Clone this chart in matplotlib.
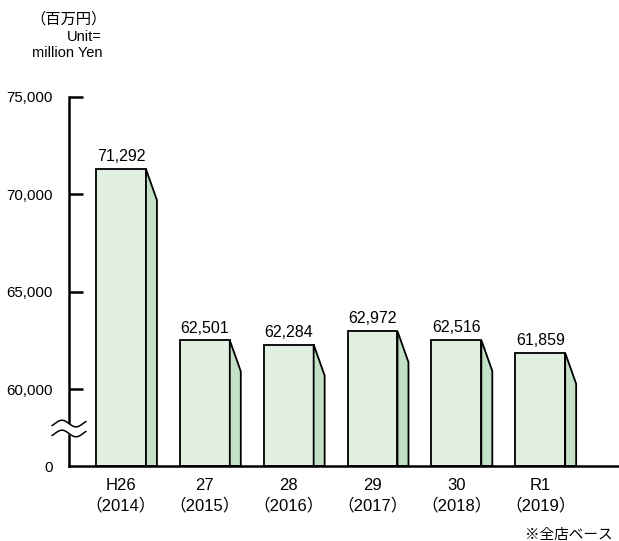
import matplotlib.pyplot as plt
import numpy as np

plt.rcParams['font.family'] = ['Liberation Sans', 'Noto Sans CJK JP']

years = ['H26\n（2014）', '27\n（2015）', '28\n（2016）', '29\n（2017）', '30\n（2018）', 'R1\n（2019）']
sales = [71292, 62501, 62284, 62972, 62516, 61859]
yticks = [75000, 70000, 65000, 60000]
ytick_labels = ['75,000', '70,000', '65,000', '60,000']

# broken axis: the "0" baseline sits a little below 60,000
y_zero = 56050

front_col = '#e2f0e2'
side_col = '#c2e1c5'

fig = plt.figure(figsize=(6.19, 5.41), dpi=100)
ax = fig.add_axes([69/619, 75/541, 550/619, 369/541])

hw = 0.298   # half width of bar front
sw = 0.131   # width of side face
drop = 1590  # slope of the side face top

x = np.arange(len(sales))
for i, v in zip(x, sales):
    ax.fill([i-hw, i+hw, i+hw, i-hw], [y_zero, y_zero, v, v],
            facecolor=front_col, edgecolor='black', lw=1.3, zorder=2)
    ax.fill([i+hw, i+hw+sw, i+hw+sw, i+hw], [y_zero, y_zero, v-drop, v],
            facecolor=side_col, edgecolor='black', lw=1.3, zorder=2)
    ax.annotate(f'{v:,}', (i, v), xytext=(0, 3.5), textcoords='offset points',
                ha='center', va='bottom', fontsize=11.5)

ax.set_xlim(-0.62, 5.94)
ax.set_ylim(y_zero, 75000)

ax.set_yticks(yticks + [y_zero])
ax.set_yticklabels(ytick_labels + ['0'])
ax.tick_params(axis='y', direction='in', length=10, width=1.8, pad=11.5, labelsize=10.8)
ax.yaxis.get_major_ticks()[-1].tick1line.set_visible(False)

ax.set_xticks(x)
ax.set_xticklabels(years, linespacing=1.35)
ax.tick_params(axis='x', length=0, pad=8.5, labelsize=12)

for s in ['top', 'right']:
    ax.spines[s].set_visible(False)
ax.spines['left'].set_linewidth(1.8)
ax.spines['bottom'].set_linewidth(1.8)
ax.spines['bottom'].set_zorder(3)

# wavy break marks on the y axis
t = np.linspace(-0.1, 1.1, 60)
bx = -0.0255 + t * 0.051
amp = 170
y1 = 58230 + amp * np.sin(2 * np.pi * t)
y2 = 57720 + amp * np.sin(2 * np.pi * t)
ax.fill_between(bx, y2, y1, color='white', transform=ax.get_yaxis_transform(),
                clip_on=False, zorder=4)
ax.plot(bx, y1, color='black', lw=1.1, transform=ax.get_yaxis_transform(), clip_on=False, zorder=5)
ax.plot(bx, y2, color='black', lw=1.1, transform=ax.get_yaxis_transform(), clip_on=False, zorder=5)

fig.text(30/619, 1 - 19/541, '（百万円）', fontsize=11, ha='left', va='center')
fig.text(102/619, 1 - 37/541, 'Unit=', fontsize=10.5, ha='right', va='center')
fig.text(102/619, 1 - 53/541, 'million Yen', fontsize=10.5, ha='right', va='center')
fig.text(613/619, 1 - 535/541, '※全店ベース', fontsize=10.5, ha='right', va='center')

fig.savefig('out.png', dpi=100)
